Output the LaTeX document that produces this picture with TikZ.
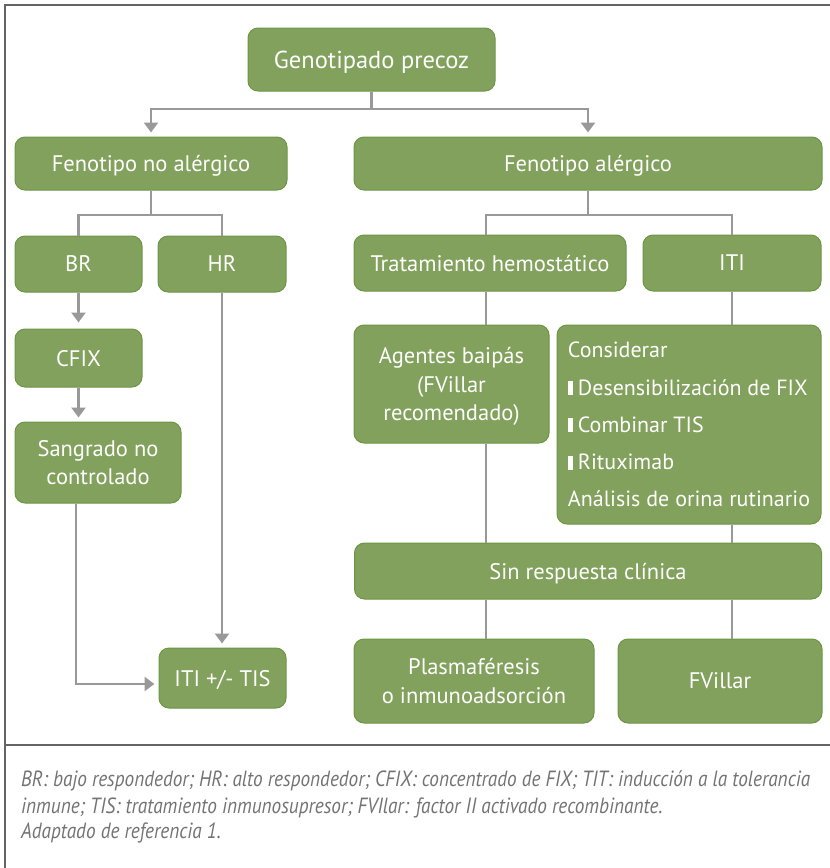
\documentclass[tikz,border=0pt]{standalone}
\usepackage{fontspec}
\setmainfont{PT Sans}
\newfontfamily\capfont{PT Sans}[FakeStretch=0.875]
\usetikzlibrary{arrows.meta}
\definecolor{boxgreen}{RGB}{130,161,93}
\definecolor{boxedge}{RGB}{108,150,68}
\definecolor{connc}{RGB}{153,153,153}
\definecolor{framec}{RGB}{100,100,100}
\definecolor{captxt}{RGB}{115,115,115}
\newcommand{\bbar}{\rule{5pt}{14pt}\hspace{5pt}}
\begin{document}
\begin{tikzpicture}[x=1pt,y=-1pt,
  gbox/.style={draw=boxedge, line width=1pt, fill=boxgreen, rounded corners=10pt,
    text=white, font=\fontsize{22.5}{28.5}\selectfont, align=center, inner sep=0pt, text depth=0pt},
  conn/.style={draw=connc, line width=2.5pt},
  arr/.style={conn, -{Triangle[width=14pt,length=10pt]}, shorten >=4pt},
  captext/.style={anchor=base west, inner sep=0pt, text=captxt, font=\capfont\itshape\fontsize{22}{26}\selectfont}
]
\useasboundingbox (0,0) rectangle (830,868);
% frame
\draw[framec, line width=2.5pt] (830,5) -- (5,5) -- (5,868);
\draw[framec, line width=2.5pt] (5,745) -- (830,745);

% boxes
\node[gbox, minimum width=247pt, minimum height=63pt, font=\fontsize{24.5}{29}\selectfont] (gen) at (371.5,59.5) {Genotipado precoz};
\node[gbox, minimum width=272pt, minimum height=53pt] (fna) at (151,163.5) {Fenotipo no alérgico};
\node[gbox, minimum width=468pt, minimum height=53pt] (fa) at (588,163.5) {Fenotipo alérgico};
\node[gbox, minimum width=127pt, minimum height=56pt] (br) at (78.5,264) {BR};
\node[gbox, minimum width=128pt, minimum height=56pt] (hr) at (222,264) {HR};
\node[gbox, minimum width=272pt, minimum height=56pt] (th) at (490,263) {Tratamiento hemostático};
\node[gbox, minimum width=178pt, minimum height=56pt] (iti) at (732,263) {ITI};
\node[gbox, minimum width=127pt, minimum height=58pt] (cfix) at (78.5,358) {CFIX};
\node[gbox, minimum width=166pt, minimum height=81pt] (sang) at (98,462.5) {Sangrado no\\controlado};
\node[gbox, minimum width=195pt, minimum height=118pt] (ag) at (451.5,384) {Agentes baipás\\(FVillar\\recomendado)};
\node[gbox, minimum width=264pt, minimum height=199pt, align=left, font=\fontsize{22}{37.3}\selectfont] (cons) at (689,424.5)
  {Considerar\\\bbar Desensibilización de FIX\\\bbar Combinar TIS\\\bbar Rituximab\\Análisis de orina rutinario};
\node[gbox, minimum width=467pt, minimum height=56pt] (sin) at (588,571) {Sin respuesta clínica};
\node[gbox, minimum width=127pt, minimum height=60pt] (itis) at (222.5,678) {ITI +/- TIS};
\node[gbox, minimum width=240pt, minimum height=84pt] (plas) at (474,681) {Plasmaféresis\\o inmunoadsorción};
\node[gbox, minimum width=204pt, minimum height=84pt] (fv) at (720,681) {FVillar};

% helper coordinates
\coordinate (j1) at (371.5,109);
\coordinate (j2) at (151,215);
\coordinate (j3) at (588,215);
\coordinate (xL) at (486,0);
\coordinate (xR) at (732,0);
\coordinate (xS) at (76,0);

% connectors
\draw[conn] (gen.south) -- (j1);
\draw[arr] (j1) -| (fna.north);
\draw[arr] (j1) -| (fa.north);
\draw[conn] (fna.south) -- (j2);
\draw[conn] (j2) -| (br.north);
\draw[conn] (j2) -| (hr.north);
\draw[conn] (fa.south) -- (j3);
\draw[conn] (j3) -| (th.north -| xL);
\draw[conn] (j3) -| (iti.north);
\draw[conn] (th.south -| xL) -- (ag.north -| xL);
\draw[conn] (iti.south -| xR) -- (cons.north -| xR);
\draw[conn] (ag.south -| xL) -- (sin.north -| xL);
\draw[conn] (cons.south -| xR) -- (sin.north -| xR);
\draw[conn] (sin.south -| xL) -- (plas.north -| xL);
\draw[conn] (sin.south -| xR) -- (fv.north -| xR);
\draw[arr, shorten >=6pt] (br.south) -- (cfix.north -| br.south);
\draw[arr] (cfix.south) -- (sang.north -| cfix.south);
\draw[arr] (hr.south) -- (itis.north -| hr.south);
\draw[arr] (sang.south -| xS) |- ([yshift=-6pt]itis.west);

% caption
\node[captext] (cap1) at (21,786) {BR: bajo respondedor; HR: alto respondedor; CFIX: concentrado de FIX; TIT: inducción a la tolerancia};
\node[captext] (cap2) at (21,813) {inmune; TIS: tratamiento inmunosupresor; FVIlar: factor II activado recombinante.};
\node[captext] (cap3) at (21,838) {Adaptado de referencia 1.};
\end{tikzpicture}
\end{document}
